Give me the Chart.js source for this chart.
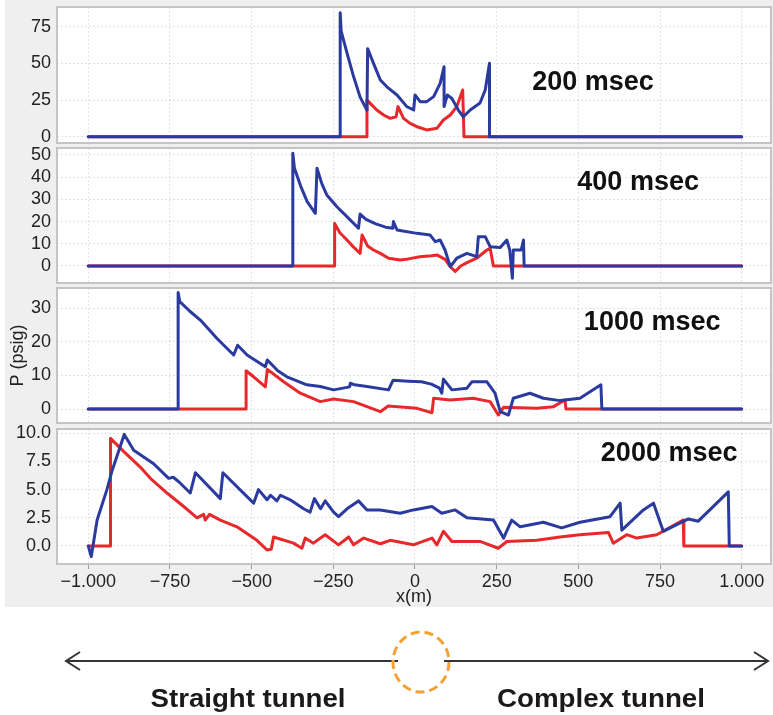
<!DOCTYPE html>
<html>
<head>
<meta charset="utf-8">
<script src="https://cdn.jsdelivr.net/npm/chart.js@4.4.1/dist/chart.umd.min.js"></script>
<style>
  body { margin: 0; background: #fff; }
  #wrap { position: relative; width: 773px; height: 715px; overflow: hidden; }
  #bg { position: absolute; left: 5px; top: 0; width: 768px; height: 607px; background: #efefef; }
  .panel { position: absolute; left: 0; }
  #tunnel { position: absolute; left: 0; top: 0; pointer-events: none; }
</style>
</head>
<body>
<div id="wrap">
  <div id="bg"></div>
  <canvas id="c200" class="panel" width="773" height="151" style="top:0px"></canvas>
  <canvas id="c400" class="panel" width="773" height="151" style="top:140px"></canvas>
  <canvas id="c1000" class="panel" width="773" height="151" style="top:280px"></canvas>
  <canvas id="c2000" class="panel" width="773" height="191" style="top:421px"></canvas>
  <svg id="tunnel" width="773" height="715">
    <g stroke="#333" stroke-width="2" fill="none">
      <line x1="66" y1="661" x2="398" y2="661"/>
      <polyline points="80,652 66,661 80,670"/>
      <line x1="444" y1="661" x2="768" y2="661"/>
      <polyline points="754,652 768,661 754,670"/>
    </g>
    <ellipse cx="421" cy="662" rx="28" ry="30" fill="none" stroke="#f5a033" stroke-width="3" stroke-dasharray="9 5"/>
    <g font-family="'Liberation Sans Narrow', 'Liberation Sans', Arial, sans-serif" font-weight="bold" font-size="25" fill="#1a1a1a" text-anchor="middle">
      <text x="248" y="707" textLength="195" lengthAdjust="spacingAndGlyphs">Straight tunnel</text>
      <text x="601" y="707" textLength="208" lengthAdjust="spacingAndGlyphs">Complex tunnel</text>
    </g>
  </svg>
</div>
<script>
// pressure profiles along the tunnel, [x (m), P (psig)]
const blue200 = [[-1000,0],[-229,0],[-229,84.5],[-226,72],[-208,57],[-188,41],[-168,27],[-147,18],[-145,60],[-127,50],[-106,38.6],[-86,34],[-55,28.4],[-25,20.5],[-4,18.2],[0,28.4],[16,23.9],[36,23.9],[57,27.3],[77,36.4],[89,47.7],[89,20.5],[99,28.4],[113,26],[133,18],[148,13.6],[169,18.2],[199,23],[215,31.8],[228,50],[228,0],[1000,0]];
const red200 = [[-1000,0],[-147,0],[-147,25],[-137,22.7],[-117,18.2],[-96,14.8],[-76,12.5],[-58,13.6],[-52,20.5],[-35,12.5],[-15,9.1],[6,6.8],[36,4.6],[67,5.7],[87,11.4],[108,14.8],[128,20.5],[146,31.8],[150,0],[1000,0]];

const blue400 = [[-1000,0],[-374,0],[-374,50.8],[-369,44],[-350,36],[-330,29],[-305,23.7],[-300,44],[-285,37],[-270,32],[-239,26.7],[-200,21],[-173,17],[-168,23.4],[-150,21],[-120,19],[-90,17.5],[-68,17],[-66,20],[-55,16.2],[6,14.7],[46,14],[62,11],[77,11.7],[92,7.2],[108,-0.3],[128,3.5],[159,5.7],[189,4.2],[194,13.2],[215,13.2],[230,8.7],[261,8.3],[281,11.7],[290,7.2],[298,-5.5],[301,7.2],[325,7.2],[332,11.7],[334,0],[1000,0]];
const red400 = [[-1000,0],[-246,0],[-246,19.2],[-230,15],[-208,11.7],[-188,8.5],[-168,5.7],[-162,14],[-145,9],[-127,7.2],[-106,5.7],[-81,3.5],[-45,2.7],[-20,3.2],[15,4.2],[50,4.6],[67,5],[92,3],[108,-0.3],[123,-2.5],[140,0],[159,1.5],[189,3.5],[220,7.2],[230,8],[240,0],[1000,0]];

const blue1000 = [[-1000,0],[-725,0],[-725,34.7],[-720,32],[-690,29.2],[-657,26.5],[-630,23.6],[-606,21],[-555,16.1],[-543,19],[-514,16.1],[-458,12.6],[-452,14.6],[-420,11.4],[-392,9.6],[-331,7.2],[-290,6.7],[-249,5.7],[-200,6.6],[-198,7.7],[-185,7.2],[-147,6.7],[-81,5.7],[-67,8.6],[-20,8.3],[20,8.1],[50,7.4],[75,6.2],[82,4.7],[87,8.9],[113,5.7],[159,6.2],[174,8.1],[220,8.1],[245,4.7],[261,-0.8],[286,-1.8],[301,3.2],[352,4.7],[393,3.2],[444,2.5],[505,3.2],[569,7.2],[572,0],[1000,0]];
const red1000 = [[-1000,0],[-517,0],[-517,11.4],[-494,9.6],[-458,6.6],[-452,11.8],[-402,8.1],[-351,4.7],[-290,2.2],[-249,3],[-188,2.2],[-147,0.7],[-106,-0.8],[-82,0.9],[6,0.2],[52,-1.1],[57,3.2],[108,2.7],[178,3.2],[230,2.2],[255,-1.8],[271,0.5],[373,0.2],[424,0.7],[459,2.7],[462,0],[1000,0]];

const blue2000 = [[-1000,0],[-991,-0.95],[-973,2.3],[-943,5.0],[-927,6.7],[-890,9.9],[-861,8.5],[-800,7.3],[-754,6.0],[-740,6.1],[-723,5.7],[-688,4.7],[-672,6.5],[-596,4.2],[-588,6.5],[-494,3.8],[-479,5.0],[-453,4.1],[-442,4.5],[-423,4.0],[-412,4.5],[-382,4.1],[-341,3.3],[-321,3.0],[-308,4.2],[-289,3.3],[-275,4.0],[-249,3.0],[-234,2.6],[-208,3.3],[-173,4.0],[-147,3.2],[-107,3.2],[-45,2.9],[-5,3.2],[52,3.5],[82,2.9],[123,3.2],[159,2.5],[240,2.3],[271,0.7],[296,2.3],[322,1.7],[393,2.1],[449,1.6],[505,2.1],[597,2.6],[628,3.8],[633,1.4],[699,3.2],[730,3.8],[760,1.3],[801,1.9],[837,2.4],[867,2.2],[959,4.8],[962,0],[1000,0]];
const red2000 = [[-1000,0],[-932,0],[-932,9.55],[-892,8.4],[-841,7.0],[-810,6.0],[-759,4.7],[-708,3.5],[-667,2.5],[-647,2.8],[-642,2.3],[-629,2.8],[-596,2.3],[-545,1.7],[-484,0.5],[-453,-0.35],[-440,-0.3],[-433,0.8],[-372,0.25],[-346,-0.2],[-336,0.7],[-311,0.25],[-275,1.0],[-234,0.1],[-203,0.8],[-188,0.1],[-157,0.7],[-106,0.2],[-76,0.5],[-5,0.1],[52,0.7],[67,0.1],[87,1.3],[113,0.4],[199,0.4],[255,-0.2],[281,0.4],[373,0.5],[444,0.8],[505,1.0],[592,1.2],[607,0.25],[648,1.0],[679,0.7],[740,1.0],[821,2.3],[823,0],[1000,0]];

// axis ticks
const xTicks = [-1000, -750, -500, -250, 0, 250, 500, 750, 1000];
const xTickLabels = ['\u22121.000', '\u2212750', '\u2212500', '\u2212250', '0', '250', '500', '750', '1.000'];
const yTicks200 = [0, 25, 50, 75];
const yTicks400 = [0, 10, 20, 30, 40, 50];
const yTicks1000 = [0, 10, 20, 30];
const yTicks2000 = [0, 2.5, 5, 7.5, 10];

const panelTitles = ['200 msec', '400 msec', '1000 msec', '2000 msec'];

const BLUE = '#2b3a9f';
const RED = '#e8292b';
const FONT = '"Liberation Sans", Arial, sans-serif';

// white plot area, grey frame and the time label
const panelDecor = {
  id: 'panelDecor',
  beforeDraw(chart) {
    const a = chart.chartArea, ctx = chart.ctx;
    ctx.save();
    ctx.fillStyle = '#fff';
    ctx.fillRect(a.left, a.top, a.right - a.left, a.bottom - a.top);
    ctx.restore();
  },
  afterDraw(chart, args, opts) {
    const a = chart.chartArea, ctx = chart.ctx;
    ctx.save();
    ctx.strokeStyle = '#c4c4c4';
    ctx.lineWidth = 2;
    ctx.strokeRect(a.left, a.top, a.right - a.left, a.bottom - a.top);
    if (opts.text) {
      ctx.font = 'bold 27px ' + FONT;
      ctx.fillStyle = '#111';
      ctx.textAlign = 'center';
      ctx.textBaseline = 'middle';
      ctx.fillText(opts.text, chart.scales.x.getPixelForValue(opts.x), chart.scales.y.getPixelForValue(opts.y));
    }
    ctx.restore();
  }
};

function makePanel(id, blue, red, cfg) {
  const bottomAxis = !!cfg.bottomAxis;
  return new Chart(document.getElementById(id), {
    type: 'line',
    data: {
      datasets: [
        { data: blue.map(p => ({ x: p[0], y: p[1] })), borderColor: BLUE },
        { data: red.map(p => ({ x: p[0], y: p[1] })), borderColor: RED }
      ]
    },
    options: {
      responsive: false,
      animation: false,
      events: [],
      layout: { padding: { top: cfg.padTop, bottom: cfg.padBottom, left: 0, right: 2 } },
      elements: {
        point: { radius: 0 },
        line: { tension: 0, borderWidth: 3, borderJoinStyle: 'round', borderCapStyle: 'round' }
      },
      plugins: {
        legend: { display: false },
        tooltip: { enabled: false },
        panelDecor: cfg.label
      },
      scales: {
        x: {
          type: 'linear',
          min: -1095.8,
          max: 1089.7,
          afterBuildTicks: s => { s.ticks = xTicks.map(v => ({ value: v })); },
          afterFit: s => { s.height = bottomAxis ? 48 : 0; s.paddingLeft = 0; s.paddingRight = 0; },
          grid: {
            color: 'rgba(0,0,0,0.11)',
            drawTicks: bottomAxis,
            tickLength: 5,
            tickColor: '#9a9a9a'
          },
          border: { display: false, dash: [2, 2] },
          ticks: {
            display: bottomAxis,
            autoSkip: false,
            maxRotation: 0,
            padding: 2,
            color: '#222',
            font: { family: FONT, size: 18 },
            callback: v => xTickLabels[xTicks.indexOf(v)]
          },
          title: {
            display: bottomAxis,
            text: 'x(m)',
            color: '#222',
            font: { family: FONT, size: 18 },
            padding: { top: 0, bottom: 4 }
          }
        },
        y: {
          type: 'linear',
          min: cfg.yMin,
          max: cfg.yMax,
          afterBuildTicks: s => { s.ticks = cfg.yTicks.map(v => ({ value: v })); },
          afterFit: s => { s.width = 57; s.paddingTop = 0; s.paddingBottom = 0; },
          grid: { color: 'rgba(0,0,0,0.11)', drawTicks: false },
          border: { display: false, dash: [2, 2] },
          ticks: {
            padding: 6,
            color: '#222',
            font: { family: FONT, size: 18 },
            callback: v => v.toFixed(cfg.decimals || 0)
          },
          title: {
            display: !!cfg.yTitle,
            text: cfg.yTitle || '',
            color: '#222',
            font: { family: FONT, size: 18 },
            padding: { top: 7, bottom: 0 }
          }
        }
      }
    },
    plugins: [panelDecor]
  });
}

makePanel('c200', blue200, red200, {
  padTop: 7, padBottom: 8, yMin: -4.3, yMax: 88.4, yTicks: yTicks200,
  label: { text: panelTitles[0], x: 545, y: 36.6 }
});
makePanel('c400', blue400, red400, {
  padTop: 8, padBottom: 8, yMin: -7.66, yMax: 53.15, yTicks: yTicks400,
  label: { text: panelTitles[1], x: 683, y: 37.4 }
});
makePanel('c1000', blue1000, red1000, {
  padTop: 8, padBottom: 8, yMin: -4.17, yMax: 36.05, yTicks: yTicks1000,
  yTitle: 'P (psig)',
  label: { text: panelTitles[2], x: 726, y: 25.9 }
});
makePanel('c2000', blue2000, red2000, {
  padTop: 8, padBottom: 0, yMin: -1.6, yMax: 10.38, yTicks: yTicks2000, decimals: 1,
  bottomAxis: true,
  label: { text: panelTitles[3], x: 778, y: 8.16 }
});
</script>
</body>
</html>
